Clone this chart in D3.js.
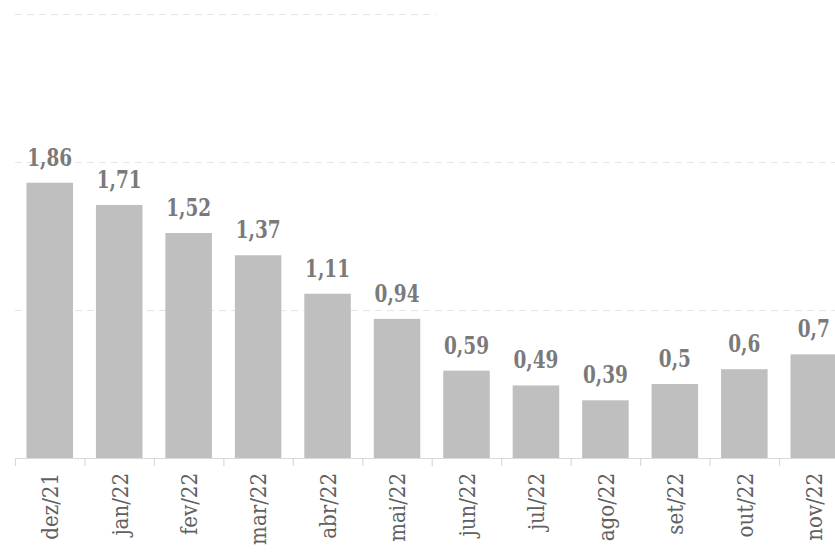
<!DOCTYPE html>
<html>
<head>
<meta charset="utf-8">
<script src="https://cdn.jsdelivr.net/npm/d3@7"></script>
<style>
  html, body { margin: 0; padding: 0; background: #fff; }
  svg { display: block; }
  .serif { font-family: "DejaVu Serif Condensed", "DejaVu Serif"; }
</style>
</head>
<body>
<svg id="chart" width="835" height="553"></svg>
<script>
const categories = ["dez/21","jan/22","fev/22","mar/22","abr/22","mai/22","jun/22","jul/22","ago/22","set/22","out/22","nov/22"];
const values = [1.86, 1.71, 1.52, 1.37, 1.11, 0.94, 0.59, 0.49, 0.39, 0.5, 0.6, 0.7];
const valueLabels = ["1,86","1,71","1,52","1,37","1,11","0,94","0,59","0,49","0,39","0,5","0,6","0,7"];
const gridValues = [0, 1, 2, 3];

const svg = d3.select("#chart");
const W = 835, H = 553;
const left = 15, step = 69.46;
const x = d3.scaleBand().domain(categories)
  .range([left, left + step * categories.length])
  .paddingInner(0.33).paddingOuter(0.165);
const y = d3.scaleLinear().domain([0, 3]).range([458, 14]);

svg.append("g").selectAll("line").data(gridValues.filter(v => v > 0)).join("line")
  .attr("x1", left).attr("x2", W)
  .attr("y1", d => Math.round(y(d)) + 0.5).attr("y2", d => Math.round(y(d)) + 0.5)
  .attr("stroke", "#e6e6e6").attr("stroke-width", 1.2)
  .attr("stroke-dasharray", "7,5");
svg.append("rect").attr("x", 436).attr("y", 0).attr("width", W - 436).attr("height", 30).attr("fill", "#fff");

svg.append("g").selectAll("rect").data(values).join("rect")
  .attr("x", (d, i) => x(categories[i]))
  .attr("width", x.bandwidth())
  .attr("y", d => y(d))
  .attr("height", d => y(0) - y(d))
  .attr("fill", "#bfbfbf");

const axisY = y(0);
const g = svg.append("g");
g.append("line").attr("x1", left).attr("x2", W)
  .attr("y1", axisY + 0.5).attr("y2", axisY + 0.5)
  .attr("stroke", "#d9d9d9").attr("stroke-width", 1.2);
g.selectAll("line.tick").data(d3.range(categories.length + 1)).join("line")
  .attr("class", "tick")
  .attr("x1", i => left + i * x.step() + 0.5).attr("x2", i => left + i * x.step() + 0.5)
  .attr("y1", axisY).attr("y2", axisY + 8)
  .attr("stroke", "#d9d9d9").attr("stroke-width", 1.2);

// category labels (rotated), condensed to emulate Times-like widths
const catText = g.selectAll("text").data(categories).join("text")
  .attr("class", "serif")
  .attr("dy", "0.38em")
  .attr("text-anchor", "end")
  .attr("font-size", 22)
  .attr("fill", "#606060")
  .text(d => d);
const refCat = catText.filter((d, i) => i === 0).node().getComputedTextLength();
const sxCat = Math.min(1, 72 / refCat);
catText.attr("transform", d => `translate(${x(d) + x.bandwidth() / 2},${axisY + 15}) rotate(-90) scale(${sxCat},1)`);

// value labels
const valText = svg.append("g").selectAll("text").data(values).join("text")
  .attr("class", "serif")
  .attr("text-anchor", "middle")
  .attr("font-weight", "bold")
  .attr("font-size", 24)
  .attr("fill", "#7a7a7a")
  .text((d, i) => valueLabels[i]);
const refVal = valText.filter((d, i) => i === 0).node().getComputedTextLength();
const sxVal = Math.min(1, 45 / refVal);
valText.attr("transform", (d, i) => `translate(${x(categories[i]) + x.bandwidth() / 2},${y(d) - 17}) scale(${sxVal},1)`);
</script>
</body>
</html>
